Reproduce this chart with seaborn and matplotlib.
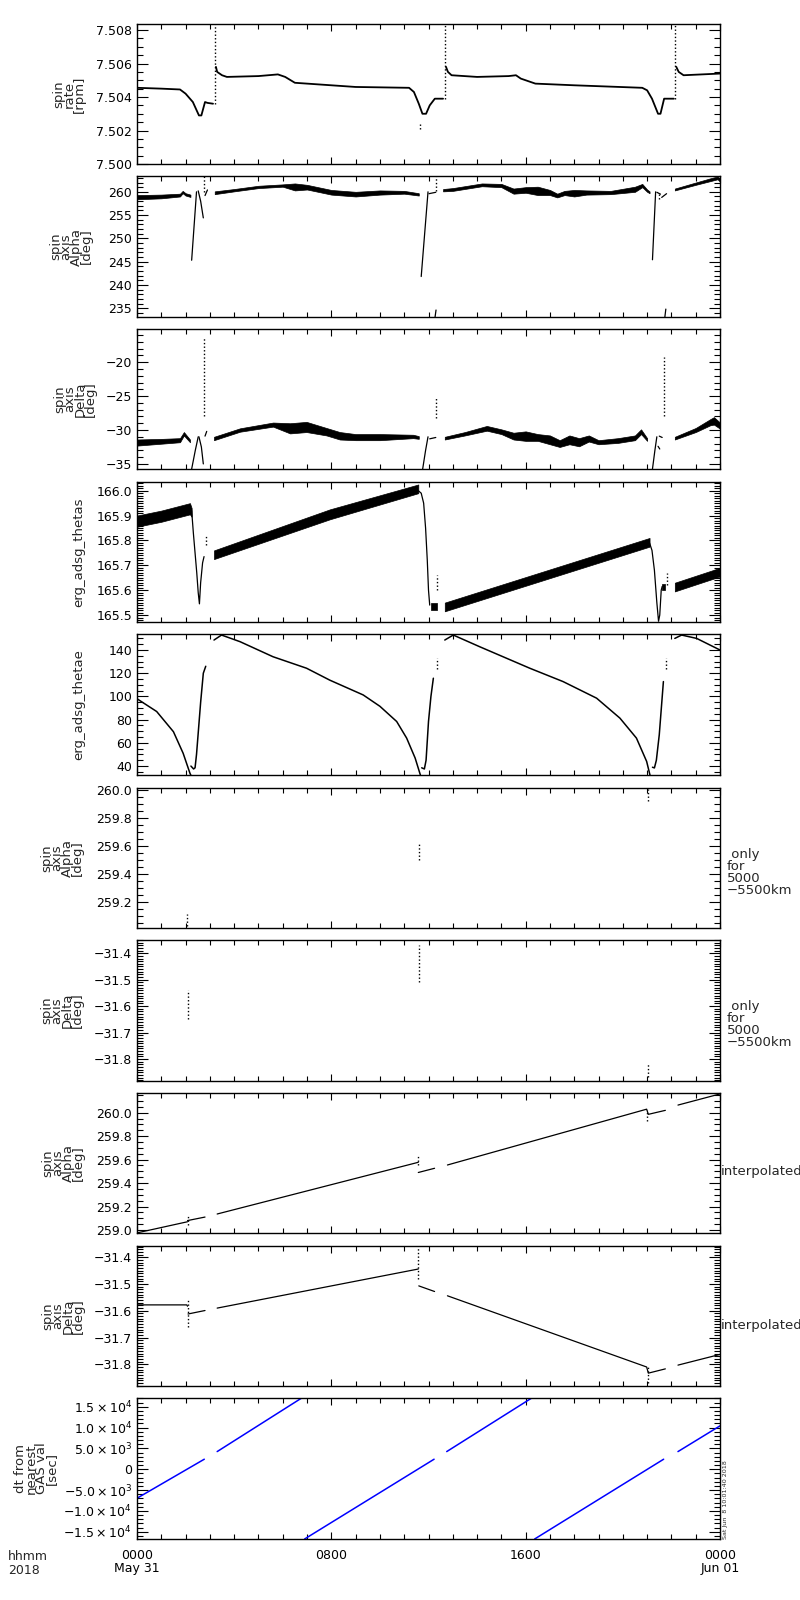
import numpy as np
import pandas as pd
import matplotlib
matplotlib.use('Agg')
import matplotlib.pyplot as plt
from matplotlib.ticker import MultipleLocator, FixedLocator, FuncFormatter
import seaborn as sns

nan = np.nan

# ---- panel 1: spin rate [rpm] ----
rate_t = [0, 1.0, 1.77, 2.0, 2.3, 2.55, 2.65, 2.8, 2.9, 3.13, nan,
          3.25, 3.3, 3.5, 3.7, 5.0, 5.8, 6.1, 6.5, 7.0, 9.0, 11.2, 11.4, 11.6,
          11.75, 11.9, 12.05, 12.26, 12.6, nan,
          12.72, 12.8, 12.95, 14.0, 15.3, 15.6, 15.8, 16.4, 18.0, 20.8, 21.0,
          21.2, 21.45, 21.55, 21.7, 22.1, nan,
          22.2, 22.3, 22.5, 24.0]
rate_v = [7.50455, 7.5045, 7.50445, 7.5042, 7.5037, 7.5029, 7.5029, 7.5037, 7.50365, 7.5036, nan,
          7.5058, 7.5055, 7.5053, 7.5052, 7.50525, 7.50535, 7.5052, 7.50485, 7.5048, 7.5046, 7.50455, 7.5043, 7.5036,
          7.5030, 7.5030, 7.5035, 7.5039, 7.5039, nan,
          7.5058, 7.5055, 7.5053, 7.5052, 7.50525, 7.5053, 7.5051, 7.5048, 7.5047, 7.50455, 7.5044,
          7.5039, 7.5030, 7.5030, 7.5039, 7.5039, nan,
          7.5058, 7.5055, 7.5053, 7.5054]
rate_spike_t = [3.2, 11.65, 12.67, 22.15]
rate_spike_lo = [7.5036, 7.5021, 7.5039, 7.5039]
rate_spike_hi = [7.5084, 7.5024, 7.5084, 7.5084]

# ---- panel 2: spin axis Alpha [deg] (noisy band) ----
alpha_t = [0, 1.0, 1.77, 1.88, 2.0, 2.2, nan,
           3.2, 4.0, 5.0, 6.0, 6.5, 7.0, 8.0, 9.0, 10.0, 11.0, 11.6, nan,
           12.6, 13.0, 14.2, 15.0, 15.5, 16.0, 16.5, 17.0, 17.3, 17.6, 18.0, 18.5,
           19.5, 20.5, 20.8, 21.0, 21.1, nan,
           22.14, 23.0, 23.6, 23.9, 24.0]
alpha_lo = [258.4, 258.6, 259.0, 259.7, 259.2, 258.9, nan,
            259.5, 260.1, 260.8, 261.1, 260.3, 260.5, 259.4, 259.0, 259.4, 259.6, 259.2, nan,
            260.1, 260.2, 261.2, 261.0, 259.6, 259.8, 259.3, 259.3, 258.8, 259.3, 259.0, 259.4,
            259.5, 260.0, 261.0, 260.0, 259.7, nan,
            260.3, 261.5, 262.3, 262.7, 262.2]
alpha_hi = [259.3, 259.4, 259.6, 260.2, 259.7, 259.4, nan,
            260.1, 260.6, 261.3, 261.6, 261.8, 261.5, 260.4, 260.0, 260.3, 260.2, 259.7, nan,
            260.6, 260.8, 261.8, 261.7, 260.7, 261.0, 261.1, 260.4, 259.6, 260.2, 260.4, 260.3,
            260.2, 261.1, 261.7, 260.5, 260.1, nan,
            260.7, 262.0, 262.9, 263.3, 262.8]
alpha_dip_t = [2.25, 2.45, nan, 2.52, 2.62, 2.73, nan, 2.8, 2.9, nan,
               11.7, 11.98, nan, 12.02, 12.3, nan, 12.27, 12.31, nan,
               21.22, 21.35, nan, 21.4, 21.55, nan, 21.6, 21.8, nan, 21.73, 21.77]
alpha_dip_v = [245.3, 260.0, nan, 260.2, 258.0, 254.4, nan, 259.2, 260.4, nan,
               241.8, 260.0, nan, 259.6, 259.9, nan, 233.1, 234.6, nan,
               245.4, 260.0, nan, 259.9, 259.5, nan, 258.8, 259.6, nan, 233.1, 234.8]
alpha_dot_t = [2.77, 12.3, 21.5]
alpha_dot_lo = [260.0, 260.2, 258.4]
alpha_dot_hi = [263.4, 263.4, 259.6]

# ---- panel 3: spin axis Delta [deg] (noisy band) ----
delta_t = [0, 1.07, 1.77, 1.93, 2.18, nan,
           3.17, 4.24, 5.6, 6.3, 6.98, 7.8, 8.35, 9.0, 10.0, 11.37, 11.6, nan,
           12.67, 13.5, 14.4, 15.0, 15.5, 16.0, 16.5, 17.0, 17.4, 17.8, 18.2, 18.6,
           19.0, 19.8, 20.5, 20.75, 21.0, nan,
           22.14, 23.0, 23.6, 23.75, 24.0]
delta_lo = [-32.3, -32.0, -31.8, -30.8, -31.8, nan,
            -31.5, -30.25, -29.5, -30.5, -30.3, -30.8, -31.4, -31.5, -31.5, -31.2, -31.3, nan,
            -31.4, -30.8, -30.1, -30.6, -31.4, -31.6, -31.6, -32.1, -32.5, -32.1, -32.4, -31.7,
            -32.1, -31.9, -31.5, -30.6, -31.6, nan,
            -31.4, -30.3, -29.3, -29.2, -29.8]
delta_hi = [-31.4, -31.3, -31.2, -30.3, -31.4, nan,
            -31.0, -29.75, -28.9, -29.0, -28.8, -29.7, -30.3, -30.6, -30.6, -30.7, -30.9, nan,
            -31.0, -30.3, -29.4, -29.9, -30.4, -30.2, -30.6, -30.8, -31.5, -30.8, -31.2, -30.8,
            -31.5, -31.2, -30.8, -29.9, -31.2, nan,
            -31.0, -29.7, -28.4, -28.1, -28.9]
delta_dip_t = [2.25, 2.4, 2.52, nan, 2.55, 2.65, 2.73, nan, 2.8, 2.87, nan,
               11.76, 11.88, 11.98, nan, 12.05, 12.3, nan,
               21.22, 21.32, 21.4, nan, 21.45, 21.52, nan, 21.5, 21.62]
delta_dip_v = [-35.75, -33.0, -31.0, nan, -31.0, -32.5, -35.0, nan, -30.9, -30.2, nan,
               -35.75, -33.0, -31.0, nan, -31.3, -31.1, nan,
               -35.75, -33.0, -31.0, nan, -32.4, -32.8, nan, -30.9, -31.1]
delta_dot_t = [2.76, 12.29, 21.7]
delta_dot_lo = [-28.0, -28.3, -28.0]
delta_dot_hi = [-16.4, -25.3, -19.3]

# ---- panel 4: erg_adsg_thetas ----
thetas_t = [0, 1.0, 2.18, 2.25, nan, 3.17, 7.94, 11.58, nan, 12.1, 12.35, nan,
            12.67, 21.1, nan, 21.62, 21.75, nan, 22.14, 24.0]
thetas_lo = [165.855, 165.875, 165.905, 165.895, nan, 165.725, 165.885, 165.99, nan, 165.52, 165.52, nan,
             165.515, 165.775, nan, 165.60, 165.60, nan, 165.595, 165.655]
thetas_hi = [165.90, 165.92, 165.95, 165.93, nan, 165.76, 165.925, 166.025, nan, 165.55, 165.55, nan,
             165.55, 165.81, nan, 165.625, 165.625, nan, 165.63, 165.69]
thetas_drop_t = [2.25, 2.32, 2.39, 2.46, 2.52, 2.57, 2.62, 2.7, 2.76, nan,
                 11.58, 11.7, 11.8, 11.88, 11.95, 12.0, 12.05, nan,
                 21.1, 21.2, 21.3, 21.4, 21.47, 21.52, 21.58, 21.62]
thetas_drop_v = [165.92, 165.83, 165.75, 165.67, 165.59, 165.545, 165.63, 165.71, 165.735, nan,
                 166.0, 165.99, 165.95, 165.85, 165.72, 165.6, 165.54, nan,
                 165.79, 165.76, 165.68, 165.55, 165.475, 165.5, 165.6, 165.615]
thetas_dot_t = [2.84, 12.35, 21.8]
thetas_dot_lo = [165.78, 165.60, 165.62]
thetas_dot_hi = [165.82, 165.66, 165.67]

# ---- panel 5: erg_adsg_thetae ----
thetae_t = [0, 0.81, 1.5, 1.9, 2.18, 2.22, nan,
            2.22, 2.33, 2.39, 2.45, 2.52, 2.62, 2.73, 2.83, nan,
            3.17, 3.48, 4.24, 5.6, 6.98, 7.94, 9.31, 10.0, 10.69, 11.1, 11.45, 11.67, nan,
            11.72, 11.83, 11.9, 12.0, 12.1, 12.2, nan,
            12.67, 13.02, 14.1, 16.17, 17.54, 18.92, 19.88, 20.56, 20.98, 21.12, nan,
            21.22, 21.3, 21.38, 21.5, 21.67, nan,
            22.14, 22.42, 23.04, 24.0]
thetae_v = [98, 87, 69.6, 51, 33.8, 32.0, nan,
            40, 37.5, 38.5, 50, 68.5, 95, 120, 126, nan,
            148.6, 152.9, 147.2, 134.2, 124.3, 114, 101.3, 91.5, 78.4, 64.1, 46.9, 32.0, nan,
            38.5, 37.5, 45, 78.4, 100, 115.7, nan,
            148.6, 152.9, 142.9, 124.3, 112.8, 98.5, 81.3, 64.1, 44, 32.0, nan,
            39, 38.4, 45, 67, 112.8, nan,
            150, 152.9, 150, 140]
thetae_dot_t = [12.33, 21.78]
thetae_dot_lo = [124, 124]
thetae_dot_hi = [133, 133]

# ---- panels 6/7: only for 5000-5500km ----
p6_dot_t = [2.04, 11.6, 21.03]
p6_dot_lo = [259.03, 259.50, 259.92]
p6_dot_hi = [259.12, 259.63, 260.01]
p7_dot_t = [2.08, 11.6, 21.03]
p7_dot_lo = [-31.65, -31.51, -31.868]
p7_dot_hi = [-31.54, -31.37, -31.815]

# ---- panels 8/9: interpolated ----
ialpha_t = [0, 2.08, nan, 2.08, 2.8, nan, 3.3, 11.58, nan, 11.58, 12.25, nan,
            12.78, 20.98, 21.05, 21.75, nan, 22.27, 24.0]
ialpha_v = [258.975, 259.07, nan, 259.08, 259.11, nan, 259.136, 259.577, nan, 259.49, 259.526, nan,
            259.554, 260.03, 259.986, 260.02, nan, 260.065, 260.16]
p8_dot_t = [2.08, 11.58, 21.0]
p8_dot_lo = [259.04, 259.55, 259.93]
p8_dot_hi = [259.12, 259.63, 260.02]
idelta_t = [0, 2.05, 2.08, nan, 2.1, 2.8, nan, 3.3, 11.58, nan, 11.6, 12.25, nan,
            12.78, 20.98, 21.05, 21.75, nan, 22.27, 24.0]
idelta_v = [-31.578, -31.578, -31.583, nan, -31.612, -31.599, nan, -31.59, -31.444, nan,
            -31.507, -31.528, nan, -31.544, -31.81, -31.833, -31.817, nan, -31.803, -31.763]
p9_dot_t = [2.08, 11.58, 21.05]
p9_dot_lo = [-31.66, -31.48, -31.87]
p9_dot_hi = [-31.56, -31.367, -31.81]

# ---- panel 10: dt from nearest GAS val [sec] ----
dt_t = [0, 2.77, nan, 3.3, 6.78, nan, 6.9, 12.23, nan, 12.75, 16.25, nan,
        16.37, 21.68, nan, 22.27, 24.0]
dt_v = [-6970, 2400, nan, 4230, 17090, nan, -16750, 2400, nan, 4230, 17090, nan,
        -16750, 2400, nan, 4230, 10400]

xtick_pos = [0, 8, 16, 24]
xtick_lab = ['0000\nMay 31', '0800', '1600', '0000\nJun 01']

ylabels = ['spin\nrate\n[rpm]', 'spin\naxis\nAlpha\n[deg]', 'spin\naxis\nDelta\n[deg]',
           'erg_adsg_thetas', 'erg_adsg_thetae',
           'spin\naxis\nAlpha\n[deg]', 'spin\naxis\nDelta\n[deg]',
           'spin\naxis\nAlpha\n[deg]', 'spin\naxis\nDelta\n[deg]',
           'dt from\nnearest\nGAS val\n[sec]']
right_notes = [None, None, None, None, None,
               ' only\nfor\n5000\n\u22125500km', ' only\nfor\n5000\n\u22125500km',
               'interpolated', 'interpolated', None]

ylims = [(7.500, 7.50836), (233.1, 263.4), (-35.75, -15.1), (165.472, 166.035), (32.3, 153.8),
         (259.017, 260.014), (-31.883, -31.35), (258.974, 260.168), (-31.881, -31.358),
         (-16750, 17090)]
ymajor = [0.002, 5, 5, 0.1, 20, 0.2, 0.1, 0.2, 0.1, 5000]
yminor = [0.0005, 1, 1, 0.01, 5, 0.05, 0.01, 0.05, 0.01, 1000]
yfmt = ['%.3f', '%d', '%d', '%.1f', '%d', '%.1f', '%.1f', '%.1f', '%.1f', 'sci']

# layout in pixels (800 x 1600)
W, H = 800, 1600
X0, X1 = 137, 720
panel_top = [24, 176, 329, 482, 634, 788, 940, 1093, 1246, 1398]
panel_bot = [164, 317, 469, 622, 775, 928, 1081, 1233, 1386, 1539]
label_right = [86, 93, 97, 85, 85, 84, 84, 85, 85, 58]

sns.set_theme(style='ticks', rc={
    'axes.linewidth': 1.0, 'axes.edgecolor': 'black',
    'xtick.direction': 'in', 'ytick.direction': 'in',
    'xtick.color': 'black', 'ytick.color': 'black',
})
plt.rcParams['font.family'] = ['DejaVu Sans']
FS = 9.5
TFS = 9


def split(t, *vals):
    df = pd.DataFrame({'t': t})
    for i, v in enumerate(vals):
        df[f'v{i}'] = v
    df['seg'] = df['t'].isna().cumsum()
    return df.dropna()


def draw_line(ax, t, v, color='black', lw=0.9):
    df = split(t, v)
    sns.lineplot(data=df, x='t', y='v0', units='seg', estimator=None, sort=False,
                 color=color, lw=lw, ax=ax, legend=False)


def draw_band(ax, t, lo, hi):
    df = split(t, lo, hi)
    for _, g in df.groupby('seg'):
        ax.fill_between(g['t'], g['v0'], g['v1'], color='black', lw=0.5)


def draw_dots(ax, t, lo, hi):
    ax.vlines(t, lo, hi, color='black', lw=1.0, linestyles=(0, (1, 1.6)))


def fmt_factory(kind):
    if kind == 'sci':
        def f(v, pos):
            if abs(v) < 1e-9:
                return '0'
            e = int(np.floor(np.log10(abs(v))))
            m = v / 10 ** e
            s = '%.1f' % abs(m)
            sign = '\u2212' if v < 0 else ''
            return r'$%s%s\times10^{%d}$' % (sign, s, e)
        return FuncFormatter(f)
    return FuncFormatter(lambda v, pos: (kind % v).replace('-', '\u2212'))


fig = plt.figure(figsize=(W / 100, H / 100), dpi=100)
axes = []
for i in range(10):
    top, bot = panel_top[i], panel_bot[i]
    ax = fig.add_axes([X0 / W, 1 - bot / H, (X1 - X0) / W, (bot - top) / H])
    axes.append(ax)

draw_line(axes[0], rate_t, rate_v, lw=1.3)
draw_dots(axes[0], rate_spike_t, rate_spike_lo, rate_spike_hi)

draw_band(axes[1], alpha_t, alpha_lo, alpha_hi)
draw_line(axes[1], alpha_dip_t, alpha_dip_v)
draw_dots(axes[1], alpha_dot_t, alpha_dot_lo, alpha_dot_hi)

draw_band(axes[2], delta_t, delta_lo, delta_hi)
draw_line(axes[2], delta_dip_t, delta_dip_v)
draw_dots(axes[2], delta_dot_t, delta_dot_lo, delta_dot_hi)

draw_band(axes[3], thetas_t, thetas_lo, thetas_hi)
draw_line(axes[3], thetas_drop_t, thetas_drop_v)
draw_dots(axes[3], thetas_dot_t, thetas_dot_lo, thetas_dot_hi)

draw_line(axes[4], thetae_t, thetae_v, lw=1.1)
draw_dots(axes[4], thetae_dot_t, thetae_dot_lo, thetae_dot_hi)

draw_dots(axes[5], p6_dot_t, p6_dot_lo, p6_dot_hi)
draw_dots(axes[6], p7_dot_t, p7_dot_lo, p7_dot_hi)

draw_line(axes[7], ialpha_t, ialpha_v)
draw_dots(axes[7], p8_dot_t, p8_dot_lo, p8_dot_hi)
draw_line(axes[8], idelta_t, idelta_v)
draw_dots(axes[8], p9_dot_t, p9_dot_lo, p9_dot_hi)

draw_line(axes[9], dt_t, dt_v, color='#0000ff', lw=1.1)

for i, ax in enumerate(axes):
    ax.set_xlim(0, 24)
    ax.set_ylim(*ylims[i])
    ax.set_xlabel('')
    ax.set_ylabel('')
    ax.xaxis.set_major_locator(FixedLocator(xtick_pos))
    ax.xaxis.set_minor_locator(MultipleLocator(1))
    lo, hi = ylims[i]
    step = ymajor[i]
    first = np.ceil(lo / step - 1e-6) * step
    ticks = np.arange(first, hi + step * 1e-6, step)
    ax.yaxis.set_major_locator(FixedLocator(ticks))
    ax.yaxis.set_minor_locator(MultipleLocator(yminor[i]))
    ax.yaxis.set_major_formatter(fmt_factory(yfmt[i]))
    ax.tick_params(axis='both', which='both', direction='in', top=True, right=True,
                   labelsize=TFS, width=0.8, colors='black')
    ax.tick_params(axis='y', which='major', length=8, pad=3.5)
    ax.tick_params(axis='y', which='minor', length=4.5)
    ax.tick_params(axis='x', which='major', length=5, pad=7)
    ax.tick_params(axis='x', which='minor', length=3.5)
    for sp in ax.spines.values():
        sp.set_visible(True)
        sp.set_color('black')
        sp.set_linewidth(1.0)
    if i < 9:
        ax.tick_params(axis='x', labelbottom=False)
    else:
        ax.set_xticklabels(xtick_lab)
        for lab in ax.get_xticklabels():
            lab.set_linespacing(1.05)

    ymid = (panel_top[i] + panel_bot[i]) / 2
    fig.text(label_right[i] / W, 1 - ymid / H, ylabels[i], rotation=90, ha='right', va='center',
             multialignment='center', linespacing=0.72, fontsize=FS)
    note = right_notes[i]
    if note is not None:
        if note == 'interpolated':
            fig.text(721 / W, 1 - (ymid + 9) / H, note, ha='left', va='center', fontsize=FS)
        else:
            fig.text(727 / W, 1 - (ymid + 14) / H, note, ha='left', va='center',
                     linespacing=0.9, fontsize=FS)

fig.text(8 / W, 1 - 1550 / H, 'hhmm\n2018', ha='left', va='top', fontsize=TFS, linespacing=1.05)
fig.text(725 / W, 1 - 1539 / H, 'Sat Jun  8 10:01:40 2018', rotation=90, ha='center',
         va='bottom', fontsize=4.6)

fig.savefig('out.png', dpi=100, facecolor='white')
